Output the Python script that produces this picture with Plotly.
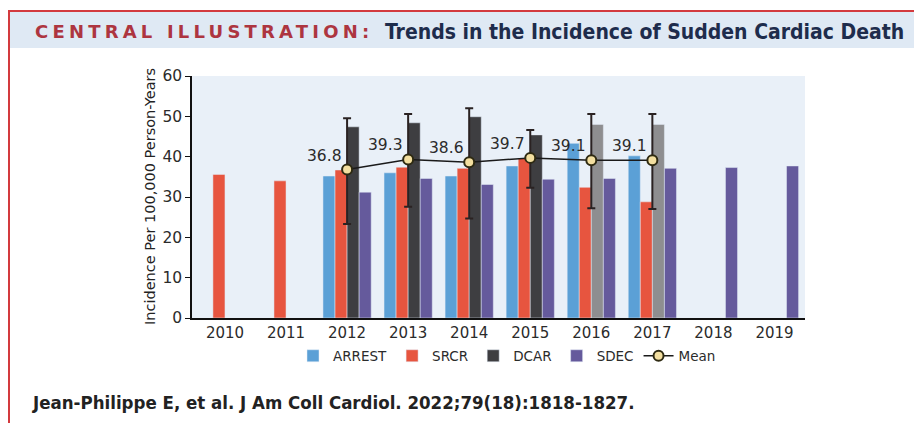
import plotly.graph_objects as go

years = ["2010", "2011", "2012", "2013", "2014", "2015", "2016", "2017", "2018", "2019"]
arrest = [None, None, 35.2, 36.0, 35.2, 37.7, 43.3, 40.2, None, None]
srcr = [35.6, 34.0, 36.7, 37.4, 37.1, 39.6, 32.4, 28.8, None, None]
dcar = [None, None, 47.4, 48.4, 49.9, 45.4, 48.0, 48.0, None, None]
sdec = [None, None, 31.2, 34.6, 33.1, 34.4, 34.6, 37.1, 37.3, 37.7]

mean_years = ["2012", "2013", "2014", "2015", "2016", "2017"]
mean_vals = [36.8, 39.3, 38.6, 39.7, 39.1, 39.1]
mean_hi = [49.5, 50.6, 52.0, 46.6, 50.6, 50.6]
mean_lo = [23.3, 27.6, 24.7, 32.3, 27.2, 27.0]
mean_labels = ["36.8", "39.3", "38.6", "39.7", "39.1", "39.1"]

# DCAR bars for 2016-2017 are drawn in a lighter grey in the original
dcar_light_years = ["2016", "2017"]

C_ARREST = "#5ba0d6"
C_SRCR = "#e7553f"
C_DCAR = "#3e3e41"
C_DCAR_L = "#8e8e90"
C_SDEC = "#655a9c"

# page pixel geometry (the HTML body has an 8px margin)
OFF = 8
W, H = 922 - OFF, 423 - OFF
L, R, T, B = 192, 805, 76, 318


def px(x):
    return (x - L) / (R - L)


def py(y):
    return (B - y) / (B - T)


FONT = "DejaVu Sans"

fig = go.Figure()
fig.add_trace(go.Bar(name="ARREST", x=years, y=arrest, marker_color=C_ARREST))
fig.add_trace(go.Bar(name="SRCR", x=years, y=srcr, marker_color=C_SRCR))
fig.add_trace(go.Bar(name="DCAR", x=years, y=dcar,
                     marker_color=[C_DCAR_L if yr in dcar_light_years else C_DCAR for yr in years]))
fig.add_trace(go.Bar(name="SDEC", x=years, y=sdec, marker_color=C_SDEC))

fig.add_trace(go.Scatter(
    name="Mean", x=mean_years, y=mean_vals, mode="lines+markers",
    line=dict(color="#1a1a1a", width=1.5),
    marker=dict(size=10, color="#f3dfa0", line=dict(color="#2e2a12", width=2)),
    error_y=dict(type="data", symmetric=False,
                 array=[h - m for h, m in zip(mean_hi, mean_vals)],
                 arrayminus=[m - l for m, l in zip(mean_vals, mean_lo)],
                 color="#2a2222", thickness=2, width=4),
))

shapes = [
    # title band
    dict(type="rect", xref="paper", yref="paper", x0=px(10), x1=px(930), y0=py(12), y1=py(48),
         fillcolor="#dfe9f4", line=dict(width=0), layer="below"),
    # red frame
    dict(type="rect", xref="paper", yref="paper", x0=px(9), x1=px(940), y0=py(11), y1=py(440),
         fillcolor="rgba(0,0,0,0)", line=dict(color="#d33a3e", width=2)),
]

annotations = [
    dict(xref="paper", yref="paper", x=px(33), y=py(31), xanchor="left", yanchor="middle",
         text='<span style="letter-spacing:4.2px"><b>CENTRAL ILLUSTRATION:</b></span>',
         showarrow=False, font=dict(family=FONT, size=18, color="#ad3540")),
    dict(xref="paper", yref="paper", x=px(383), y=py(32), xanchor="left", yanchor="middle",
         text="<b>Trends in the Incidence of Sudden Cardiac Death</b>",
         showarrow=False, font=dict(family="DejaVu Sans Condensed", size=21, color="#1e2c4c")),
    dict(xref="paper", yref="paper", x=px(150), y=py(197), xanchor="center", yanchor="middle",
         text="Incidence Per 100,000 Person-Years", textangle=-90,
         showarrow=False, font=dict(family=FONT, size=14.5, color="#222222")),
    dict(xref="paper", yref="paper", x=px(30), y=py(402), xanchor="left", yanchor="middle",
         text="<b>Jean-Philippe E, et al. J Am Coll Cardiol. 2022;79(18):1818-1827.</b>",
         showarrow=False, font=dict(family="DejaVu Sans Condensed", size=18.5, color="#222222")),
]

# mean value labels, placed above-left of each mean marker (category axis -> index positions)
for yr, v, lab in zip(mean_years, mean_vals, mean_labels):
    annotations.append(dict(x=years.index(yr), y=v, xref="x", yref="y", text=lab, showarrow=False,
                            xanchor="right", yanchor="bottom", xshift=-3, yshift=3,
                            font=dict(family=FONT, size=15.5, color="#2b2b2b")))

fig.update_layout(
    width=W, height=H,
    margin=dict(l=L - OFF, r=W + OFF - R, t=T - OFF, b=H + OFF - B, autoexpand=False),
    paper_bgcolor="white", plot_bgcolor="#e9f0f8",
    barmode="group", bargap=0.21, bargroupgap=0,
    font=dict(family=FONT, size=14, color="#2b2b2b"),
    showlegend=True,
    legend=dict(orientation="h", x=px(507), y=py(356), xanchor="center", yanchor="middle",
                font=dict(family=FONT, size=13.5, color="#2b2b2b"), bgcolor="rgba(0,0,0,0)",
                itemwidth=30, tracegroupgap=0, itemclick=False),
    shapes=shapes, annotations=annotations,
    xaxis=dict(type="category", range=[-0.54, 9.5], showline=True, linecolor="#111111", linewidth=1.5,
               ticks="", showgrid=False, tickfont=dict(family=FONT, size=15, color="#2b2b2b"),
               fixedrange=True),
    yaxis=dict(range=[0, 60], dtick=10, showline=True, linecolor="#111111", linewidth=1.5,
               ticks="outside", ticklen=5, tickcolor="#111111", showgrid=False, zeroline=False,
               tickfont=dict(family=FONT, size=15.5, color="#2b2b2b"), fixedrange=True),
)

fig.write_html("out.html")
